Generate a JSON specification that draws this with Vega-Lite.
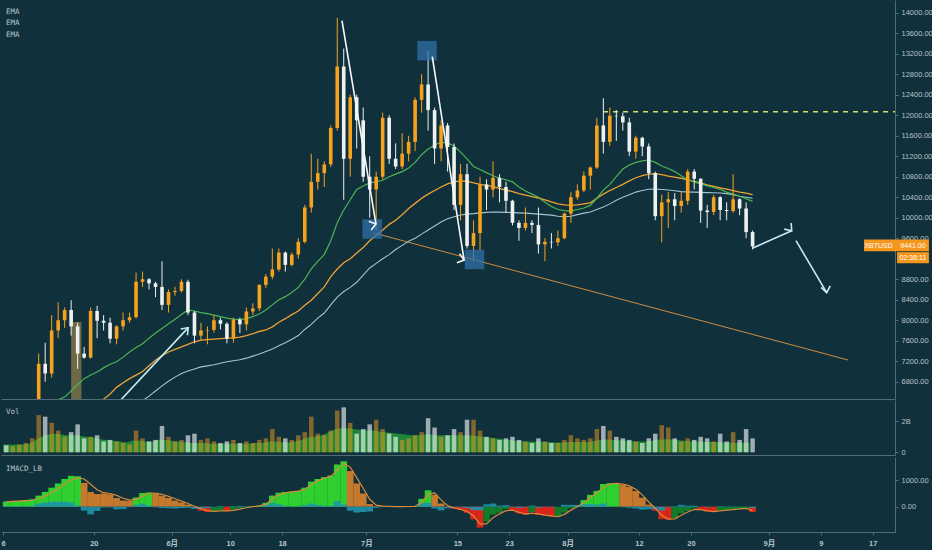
{
  "$schema": "https://vega.github.io/schema/vega-lite/v6.json",
  "background": "#10303c",
  "padding": {"left": 0, "top": 0, "right": 0, "bottom": 4},
  "spacing": 1,
  "config": {
    "view": {"stroke": null},
    "axis": {
      "domainColor": "#536b76",
      "tickColor": "#536b76",
      "labelColor": "#b9c3c8",
      "labelFont": "Liberation Sans, Noto Sans CJK SC",
      "labelFontSize": 7.5,
      "labelOverlap": false,
      "grid": false,
      "title": null,
      "tickSize": 3,
      "labelPadding": 3
    }
  },
  "datasets": {
    "px": [
      {"t":"2019-05-06","o":5770,"h":5800,"l":5600,"c":5720,"e1":5800,"e2":5600,"e3":5300,"v":0.45,"vm":0.5,"m":200,"s":180,"hs":20},
      {"t":"2019-05-07","o":5720,"h":5980,"l":5700,"c":5870,"e1":5850,"e2":5650,"e3":5350,"v":0.4,"vm":0.5,"m":220,"s":200,"hs":20},
      {"t":"2019-05-08","o":5870,"h":6050,"l":5800,"c":5990,"e1":5910,"e2":5700,"e3":5400,"v":0.5,"vm":0.5,"m":230,"s":215,"hs":15},
      {"t":"2019-05-09","o":5990,"h":6200,"l":5970,"c":6170,"e1":5990,"e2":5760,"e3":5450,"v":0.6,"vm":0.5,"m":240,"s":228,"hs":12},
      {"t":"2019-05-10","o":6170,"h":6450,"l":6120,"c":6350,"e1":6080,"e2":5830,"e3":5500,"v":0.9,"vm":0.55,"m":280,"s":245,"hs":35},
      {"t":"2019-05-11","o":6350,"h":7350,"l":6330,"c":7150,"e1":6200,"e2":5900,"e3":5560,"v":2.4,"vm":0.8,"m":420,"s":300,"hs":120},
      {"t":"2019-05-12","o":7150,"h":7560,"l":6800,"c":6960,"e1":6300,"e2":5980,"e3":5620,"v":2.3,"vm":1.0,"m":560,"s":400,"hs":160},
      {"t":"2019-05-13","o":6960,"h":8100,"l":6880,"c":7800,"e1":6390,"e2":6060,"e3":5690,"v":1.9,"vm":1.15,"m":720,"s":530,"hs":190},
      {"t":"2019-05-14","o":7800,"h":8350,"l":7650,"c":8000,"e1":6450,"e2":6140,"e3":5760,"v":1.4,"vm":1.2,"m":880,"s":690,"hs":190},
      {"t":"2019-05-15","o":8000,"h":8250,"l":7850,"c":8200,"e1":6500,"e2":6200,"e3":5830,"v":1.0,"vm":1.15,"m":1050,"s":860,"hs":190},
      {"t":"2019-05-16","o":8200,"h":8390,"l":7700,"c":7880,"e1":6620,"e2":6250,"e3":5890,"v":1.3,"vm":1.1,"m":1170,"s":1010,"hs":160},
      {"t":"2019-05-17","o":7880,"h":7950,"l":7050,"c":7350,"e1":6740,"e2":6290,"e3":5940,"v":1.8,"vm":1.1,"m":1150,"s":1100,"hs":50},
      {"t":"2019-05-18","o":7350,"h":7480,"l":7250,"c":7270,"e1":6860,"e2":6320,"e3":5990,"v":0.9,"vm":1.05,"m":900,"s":1050,"hs":-150},
      {"t":"2019-05-19","o":7270,"h":8250,"l":7250,"c":8180,"e1":6930,"e2":6350,"e3":6040,"v":1.0,"vm":1.0,"m":560,"s":850,"hs":-290},
      {"t":"2019-05-20","o":8180,"h":8280,"l":7650,"c":7990,"e1":6990,"e2":6390,"e3":6090,"v":1.1,"vm":0.95,"m":480,"s":640,"hs":-160},
      {"t":"2019-05-21","o":7990,"h":8100,"l":7800,"c":7950,"e1":7070,"e2":6460,"e3":6140,"v":0.7,"vm":0.85,"m":500,"s":530,"hs":-30},
      {"t":"2019-05-22","o":7950,"h":8050,"l":7550,"c":7640,"e1":7140,"e2":6560,"e3":6190,"v":0.8,"vm":0.8,"m":470,"s":500,"hs":-30},
      {"t":"2019-05-23","o":7640,"h":7900,"l":7530,"c":7880,"e1":7190,"e2":6690,"e3":6240,"v":0.7,"vm":0.75,"m":330,"s":430,"hs":-100},
      {"t":"2019-05-24","o":7880,"h":8150,"l":7800,"c":8000,"e1":7280,"e2":6780,"e3":6290,"v":0.6,"vm":0.7,"m":230,"s":320,"hs":-90},
      {"t":"2019-05-25","o":8000,"h":8150,"l":7950,"c":8060,"e1":7380,"e2":6860,"e3":6340,"v":0.5,"vm":0.65,"m":230,"s":250,"hs":-20},
      {"t":"2019-05-26","o":8060,"h":8930,"l":8030,"c":8750,"e1":7470,"e2":6930,"e3":6380,"v":1.4,"vm":0.75,"m":350,"s":280,"hs":70},
      {"t":"2019-05-27","o":8750,"h":8950,"l":8650,"c":8800,"e1":7540,"e2":7000,"e3":6430,"v":0.9,"vm":0.75,"m":520,"s":400,"hs":120},
      {"t":"2019-05-28","o":8800,"h":8820,"l":8600,"c":8720,"e1":7650,"e2":7110,"e3":6520,"v":0.7,"vm":0.7,"m":540,"s":500,"hs":40},
      {"t":"2019-05-29","o":8720,"h":8750,"l":8450,"c":8650,"e1":7750,"e2":7220,"e3":6620,"v":0.8,"vm":0.7,"m":500,"s":520,"hs":-20},
      {"t":"2019-05-30","o":8650,"h":9150,"l":8200,"c":8300,"e1":7840,"e2":7310,"e3":6720,"v":1.7,"vm":0.8,"m":420,"s":470,"hs":-50},
      {"t":"2019-05-31","o":8300,"h":8600,"l":8150,"c":8550,"e1":7930,"e2":7380,"e3":6810,"v":1.0,"vm":0.8,"m":330,"s":390,"hs":-60},
      {"t":"2019-06-01","o":8550,"h":8650,"l":8480,"c":8570,"e1":8020,"e2":7430,"e3":6890,"v":0.7,"vm":0.75,"m":230,"s":300,"hs":-70},
      {"t":"2019-06-02","o":8570,"h":8800,"l":8540,"c":8750,"e1":8110,"e2":7480,"e3":6960,"v":0.8,"vm":0.7,"m":160,"s":210,"hs":-50},
      {"t":"2019-06-03","o":8750,"h":8790,"l":8100,"c":8150,"e1":8200,"e2":7530,"e3":7010,"v":1.1,"vm":0.65,"m":80,"s":120,"hs":-40},
      {"t":"2019-06-04","o":8150,"h":8180,"l":7550,"c":7700,"e1":8180,"e2":7580,"e3":7050,"v":1.2,"vm":0.6,"m":-60,"s":20,"hs":-80},
      {"t":"2019-06-05","o":7700,"h":7950,"l":7600,"c":7800,"e1":8150,"e2":7610,"e3":7090,"v":0.8,"vm":0.6,"m":-150,"s":-80,"hs":-70},
      {"t":"2019-06-06","o":7800,"h":7880,"l":7530,"c":7810,"e1":8130,"e2":7620,"e3":7110,"v":0.9,"vm":0.6,"m":-200,"s":-150,"hs":-50},
      {"t":"2019-06-07","o":7810,"h":8100,"l":7760,"c":8000,"e1":8100,"e2":7630,"e3":7130,"v":0.7,"vm":0.55,"m":-180,"s":-180,"hs":0},
      {"t":"2019-06-08","o":8000,"h":8050,"l":7820,"c":7930,"e1":8070,"e2":7640,"e3":7160,"v":0.6,"vm":0.55,"m":-140,"s":-160,"hs":20},
      {"t":"2019-06-09","o":7930,"h":7960,"l":7550,"c":7640,"e1":8040,"e2":7650,"e3":7190,"v":0.7,"vm":0.55,"m":-170,"s":-160,"hs":-10},
      {"t":"2019-06-10","o":7640,"h":8050,"l":7560,"c":8010,"e1":8020,"e2":7655,"e3":7210,"v":0.8,"vm":0.55,"m":-120,"s":-140,"hs":20},
      {"t":"2019-06-11","o":8010,"h":8050,"l":7750,"c":7920,"e1":8010,"e2":7670,"e3":7230,"v":0.6,"vm":0.55,"m":-60,"s":-90,"hs":30},
      {"t":"2019-06-12","o":7920,"h":8250,"l":7800,"c":8170,"e1":8030,"e2":7700,"e3":7260,"v":0.7,"vm":0.55,"m":-20,"s":-40,"hs":20},
      {"t":"2019-06-13","o":8170,"h":8330,"l":8100,"c":8230,"e1":8070,"e2":7740,"e3":7300,"v":0.6,"vm":0.55,"m":10,"s":0,"hs":10},
      {"t":"2019-06-14","o":8230,"h":8700,"l":8180,"c":8690,"e1":8120,"e2":7780,"e3":7340,"v":0.8,"vm":0.6,"m":40,"s":30,"hs":10},
      {"t":"2019-06-15","o":8690,"h":8900,"l":8630,"c":8850,"e1":8200,"e2":7810,"e3":7390,"v":0.9,"vm":0.6,"m":150,"s":90,"hs":60},
      {"t":"2019-06-16","o":8850,"h":9400,"l":8800,"c":8990,"e1":8300,"e2":7870,"e3":7440,"v":1.5,"vm":0.7,"m":420,"s":280,"hs":140},
      {"t":"2019-06-17","o":8990,"h":9400,"l":8950,"c":9320,"e1":8400,"e2":7960,"e3":7500,"v":1.0,"vm":0.7,"m":530,"s":440,"hs":90},
      {"t":"2019-06-18","o":9320,"h":9340,"l":8950,"c":9080,"e1":8460,"e2":8030,"e3":7560,"v":0.9,"vm":0.65,"m":560,"s":530,"hs":30},
      {"t":"2019-06-19","o":9080,"h":9320,"l":9050,"c":9280,"e1":8540,"e2":8110,"e3":7630,"v":0.8,"vm":0.65,"m":570,"s":560,"hs":10},
      {"t":"2019-06-20","o":9280,"h":9600,"l":9200,"c":9530,"e1":8640,"e2":8180,"e3":7700,"v":1.1,"vm":0.7,"m":600,"s":590,"hs":10},
      {"t":"2019-06-21","o":9530,"h":10250,"l":9500,"c":10200,"e1":8800,"e2":8290,"e3":7820,"v":1.3,"vm":0.8,"m":720,"s":660,"hs":60},
      {"t":"2019-06-22","o":10200,"h":11250,"l":10100,"c":10700,"e1":9000,"e2":8390,"e3":7920,"v":2.3,"vm":0.95,"m":950,"s":830,"hs":120},
      {"t":"2019-06-23","o":10700,"h":11150,"l":10550,"c":10870,"e1":9150,"e2":8520,"e3":8040,"v":1.2,"vm":1.0,"m":1050,"s":980,"hs":70},
      {"t":"2019-06-24","o":10870,"h":11100,"l":10600,"c":11040,"e1":9280,"e2":8650,"e3":8141,"v":1.1,"vm":1.1,"m":1120,"s":1080,"hs":40},
      {"t":"2019-06-25","o":11040,"h":11800,"l":10990,"c":11750,"e1":9550,"e2":8850,"e3":8300,"v":1.4,"vm":1.25,"m":1180,"s":1150,"hs":30},
      {"t":"2019-06-26","o":11750,"h":13900,"l":11700,"c":12950,"e1":9900,"e2":9000,"e3":8450,"v":2.7,"vm":1.45,"m":1600,"s":1380,"hs":220},
      {"t":"2019-06-27","o":12950,"h":13300,"l":10350,"c":11150,"e1":10150,"e2":9120,"e3":8560,"v":2.9,"vm":1.55,"m":1720,"s":1640,"hs":80},
      {"t":"2019-06-28","o":11150,"h":12400,"l":10800,"c":12350,"e1":10350,"e2":9200,"e3":8640,"v":1.9,"vm":1.55,"m":1350,"s":1500,"hs":-150},
      {"t":"2019-06-29","o":12350,"h":12400,"l":11350,"c":11900,"e1":10550,"e2":9310,"e3":8740,"v":1.2,"vm":1.5,"m":880,"s":1100,"hs":-220},
      {"t":"2019-06-30","o":11900,"h":12150,"l":10700,"c":10800,"e1":10620,"e2":9420,"e3":8880,"v":1.5,"vm":1.45,"m":500,"s":700,"hs":-200},
      {"t":"2019-07-01","o":10800,"h":11200,"l":10000,"c":10550,"e1":10680,"e2":9550,"e3":9020,"v":1.8,"vm":1.4,"m":100,"s":280,"hs":-180},
      {"t":"2019-07-02","o":10550,"h":10900,"l":9750,"c":10800,"e1":10700,"e2":9660,"e3":9110,"v":2.1,"vm":1.4,"m":20,"s":60,"hs":-40},
      {"t":"2019-07-03","o":10800,"h":12050,"l":10750,"c":11950,"e1":10730,"e2":9760,"e3":9200,"v":1.5,"vm":1.35,"m":10,"s":20,"hs":-10},
      {"t":"2019-07-04","o":11950,"h":12000,"l":11050,"c":11150,"e1":10800,"e2":9870,"e3":9280,"v":1.2,"vm":1.3,"m":10,"s":10,"hs":0},
      {"t":"2019-07-05","o":11150,"h":11450,"l":10950,"c":11000,"e1":10850,"e2":9950,"e3":9380,"v":1.0,"vm":1.25,"m":5,"s":5,"hs":0},
      {"t":"2019-07-06","o":11000,"h":11650,"l":10950,"c":11250,"e1":10900,"e2":10060,"e3":9460,"v":0.8,"vm":1.2,"m":5,"s":5,"hs":0},
      {"t":"2019-07-07","o":11250,"h":11600,"l":11100,"c":11480,"e1":10970,"e2":10180,"e3":9540,"v":0.9,"vm":1.15,"m":10,"s":8,"hs":2},
      {"t":"2019-07-08","o":11480,"h":12350,"l":11300,"c":12300,"e1":11080,"e2":10280,"e3":9600,"v":1.1,"vm":1.1,"m":20,"s":15,"hs":5},
      {"t":"2019-07-09","o":12300,"h":12800,"l":12050,"c":12600,"e1":11230,"e2":10380,"e3":9680,"v":1.3,"vm":1.1,"m":300,"s":160,"hs":140},
      {"t":"2019-07-10","o":12600,"h":13250,"l":11700,"c":12100,"e1":11340,"e2":10460,"e3":9760,"v":2.2,"vm":1.15,"m":620,"s":470,"hs":150},
      {"t":"2019-07-11","o":12100,"h":12150,"l":11050,"c":11350,"e1":11420,"e2":10530,"e3":9840,"v":1.6,"vm":1.15,"m":450,"s":520,"hs":-70},
      {"t":"2019-07-12","o":11350,"h":11900,"l":11100,"c":11800,"e1":11470,"e2":10600,"e3":9917,"v":1.0,"vm":1.1,"m":120,"s":260,"hs":-140},
      {"t":"2019-07-13","o":11800,"h":11850,"l":10900,"c":11380,"e1":11460,"e2":10660,"e3":9980,"v":1.1,"vm":1.1,"m":-20,"s":40,"hs":-60},
      {"t":"2019-07-14","o":11380,"h":11450,"l":10150,"c":10250,"e1":11400,"e2":10700,"e3":10020,"v":1.5,"vm":1.1,"m":-80,"s":-50,"hs":-30},
      {"t":"2019-07-15","o":10250,"h":11050,"l":9950,"c":10850,"e1":11280,"e2":10720,"e3":10053,"v":1.3,"vm":1.1,"m":-120,"s":-100,"hs":-20},
      {"t":"2019-07-16","o":10850,"h":11050,"l":9400,"c":9450,"e1":11150,"e2":10710,"e3":10070,"v":2.1,"vm":1.1,"m":-230,"s":-180,"hs":-50},
      {"t":"2019-07-17","o":9450,"h":9950,"l":9150,"c":9700,"e1":11000,"e2":10680,"e3":10080,"v":2.1,"vm":1.1,"m":-480,"s":-350,"hs":-130},
      {"t":"2019-07-18","o":9700,"h":10800,"l":9350,"c":10650,"e1":10940,"e2":10650,"e3":10095,"v":1.4,"vm":1.05,"m":-790,"s":-650,"hs":-140},
      {"t":"2019-07-19","o":10650,"h":10750,"l":10150,"c":10550,"e1":10880,"e2":10630,"e3":10105,"v":1.0,"vm":1.0,"m":-560,"s":-650,"hs":90},
      {"t":"2019-07-20","o":10550,"h":11100,"l":10400,"c":10780,"e1":10820,"e2":10610,"e3":10112,"v":0.9,"vm":0.95,"m":-300,"s":-420,"hs":120},
      {"t":"2019-07-21","o":10780,"h":10850,"l":10300,"c":10600,"e1":10770,"e2":10570,"e3":10110,"v":0.8,"vm":0.9,"m":-230,"s":-270,"hs":40},
      {"t":"2019-07-22","o":10600,"h":10700,"l":10100,"c":10330,"e1":10740,"e2":10540,"e3":10105,"v":0.9,"vm":0.85,"m":-90,"s":-150,"hs":60},
      {"t":"2019-07-23","o":10330,"h":10350,"l":9850,"c":9900,"e1":10700,"e2":10510,"e3":10100,"v":1.0,"vm":0.8,"m":-150,"s":-130,"hs":-20},
      {"t":"2019-07-24","o":9900,"h":9950,"l":9550,"c":9800,"e1":10600,"e2":10470,"e3":10095,"v":0.8,"vm":0.75,"m":-260,"s":-210,"hs":-50},
      {"t":"2019-07-25","o":9800,"h":10200,"l":9750,"c":9900,"e1":10520,"e2":10440,"e3":10090,"v":0.7,"vm":0.72,"m":-300,"s":-280,"hs":-20},
      {"t":"2019-07-26","o":9900,"h":9950,"l":9700,"c":9860,"e1":10460,"e2":10410,"e3":10080,"v":0.6,"vm":0.7,"m":-200,"s":-240,"hs":40},
      {"t":"2019-07-27","o":9860,"h":10200,"l":9300,"c":9480,"e1":10400,"e2":10385,"e3":10070,"v":0.9,"vm":0.7,"m":-310,"s":-270,"hs":-40},
      {"t":"2019-07-28","o":9480,"h":9600,"l":9150,"c":9530,"e1":10300,"e2":10350,"e3":10060,"v":0.7,"vm":0.68,"m":-330,"s":-320,"hs":-10},
      {"t":"2019-07-29","o":9530,"h":9700,"l":9400,"c":9520,"e1":10220,"e2":10310,"e3":10050,"v":0.6,"vm":0.66,"m":-370,"s":-350,"hs":-20},
      {"t":"2019-07-30","o":9520,"h":9750,"l":9450,"c":9600,"e1":10160,"e2":10270,"e3":10030,"v":0.6,"vm":0.64,"m":-380,"s":-380,"hs":0},
      {"t":"2019-07-31","o":9600,"h":10100,"l":9580,"c":10080,"e1":10140,"e2":10250,"e3":10020,"v":0.8,"vm":0.64,"m":-220,"s":-290,"hs":70},
      {"t":"2019-08-01","o":10080,"h":10500,"l":9900,"c":10400,"e1":10130,"e2":10240,"e3":10030,"v":1.1,"vm":0.66,"m":-60,"s":-130,"hs":70},
      {"t":"2019-08-02","o":10400,"h":10650,"l":10350,"c":10530,"e1":10160,"e2":10250,"e3":10060,"v":0.9,"vm":0.66,"m":60,"s":0,"hs":60},
      {"t":"2019-08-03","o":10530,"h":10900,"l":10500,"c":10820,"e1":10190,"e2":10270,"e3":10090,"v":0.8,"vm":0.66,"m":250,"s":160,"hs":90},
      {"t":"2019-08-04","o":10820,"h":11000,"l":10550,"c":10980,"e1":10240,"e2":10290,"e3":10110,"v":0.9,"vm":0.66,"m":450,"s":350,"hs":100},
      {"t":"2019-08-05","o":10980,"h":11950,"l":10950,"c":11800,"e1":10380,"e2":10380,"e3":10160,"v":1.5,"vm":0.72,"m":600,"s":520,"hs":80},
      {"t":"2019-08-06","o":11800,"h":12330,"l":11250,"c":11480,"e1":10540,"e2":10460,"e3":10210,"v":1.7,"vm":0.8,"m":860,"s":740,"hs":120},
      {"t":"2019-08-07","o":11480,"h":12150,"l":11400,"c":11990,"e1":10650,"e2":10530,"e3":10270,"v":1.4,"vm":0.82,"m":890,"s":860,"hs":30},
      {"t":"2019-08-08","o":11990,"h":12100,"l":11500,"c":11980,"e1":10800,"e2":10590,"e3":10340,"v":1.0,"vm":0.8,"m":885,"s":885,"hs":0},
      {"t":"2019-08-09","o":11980,"h":12050,"l":11700,"c":11860,"e1":10950,"e2":10650,"e3":10400,"v":0.9,"vm":0.78,"m":840,"s":860,"hs":-20},
      {"t":"2019-08-10","o":11860,"h":11950,"l":11200,"c":11290,"e1":11030,"e2":10720,"e3":10450,"v":0.8,"vm":0.75,"m":750,"s":790,"hs":-40},
      {"t":"2019-08-11","o":11290,"h":11600,"l":11150,"c":11560,"e1":11080,"e2":10780,"e3":10500,"v":0.7,"vm":0.72,"m":590,"s":660,"hs":-70},
      {"t":"2019-08-12","o":11560,"h":11580,"l":11200,"c":11390,"e1":11110,"e2":10820,"e3":10530,"v":0.6,"vm":0.7,"m":340,"s":450,"hs":-110},
      {"t":"2019-08-13","o":11390,"h":11450,"l":10750,"c":10870,"e1":11126,"e2":10850,"e3":10555,"v":0.9,"vm":0.7,"m":80,"s":180,"hs":-100},
      {"t":"2019-08-14","o":10870,"h":10900,"l":9950,"c":10030,"e1":11080,"e2":10860,"e3":10560,"v":1.2,"vm":0.75,"m":-150,"s":-60,"hs":-90},
      {"t":"2019-08-15","o":10030,"h":10450,"l":9520,"c":10300,"e1":11010,"e2":10840,"e3":10550,"v":1.75,"vm":0.82,"m":-470,"s":-320,"hs":-150},
      {"t":"2019-08-16","o":10300,"h":10500,"l":9800,"c":10360,"e1":10960,"e2":10810,"e3":10540,"v":1.6,"vm":0.85,"m":-490,"s":-470,"hs":-20},
      {"t":"2019-08-17","o":10360,"h":10480,"l":9950,"c":10230,"e1":10900,"e2":10790,"e3":10525,"v":0.9,"vm":0.82,"m":-440,"s":-460,"hs":20},
      {"t":"2019-08-18","o":10230,"h":10500,"l":10100,"c":10330,"e1":10820,"e2":10770,"e3":10510,"v":0.7,"vm":0.78,"m":-250,"s":-320,"hs":70},
      {"t":"2019-08-19","o":10330,"h":10950,"l":10250,"c":10900,"e1":10740,"e2":10740,"e3":10502,"v":0.9,"vm":0.75,"m":-160,"s":-200,"hs":40},
      {"t":"2019-08-20","o":10900,"h":10950,"l":10550,"c":10760,"e1":10700,"e2":10710,"e3":10500,"v":0.8,"vm":0.72,"m":-60,"s":-100,"hs":40},
      {"t":"2019-08-21","o":10760,"h":10770,"l":9900,"c":10140,"e1":10660,"e2":10680,"e3":10495,"v":1.0,"vm":0.7,"m":-120,"s":-110,"hs":-10},
      {"t":"2019-08-22","o":10140,"h":10250,"l":9800,"c":10110,"e1":10620,"e2":10640,"e3":10490,"v":0.9,"vm":0.68,"m":-180,"s":-160,"hs":-20},
      {"t":"2019-08-23","o":10110,"h":10450,"l":10050,"c":10400,"e1":10590,"e2":10610,"e3":10487,"v":0.7,"vm":0.66,"m":-190,"s":-185,"hs":-5},
      {"t":"2019-08-24","o":10400,"h":10420,"l":9950,"c":10150,"e1":10550,"e2":10580,"e3":10483,"v":1.2,"vm":0.66,"m":-140,"s":-160,"hs":20},
      {"t":"2019-08-25","o":10150,"h":10300,"l":9950,"c":10130,"e1":10500,"e2":10560,"e3":10470,"v":0.7,"vm":0.64,"m":-120,"s":-130,"hs":10},
      {"t":"2019-08-26","o":10130,"h":10850,"l":10100,"c":10360,"e1":10460,"e2":10530,"e3":10450,"v":1.3,"vm":0.64,"m":-100,"s":-110,"hs":10},
      {"t":"2019-08-27","o":10360,"h":10380,"l":10050,"c":10180,"e1":10420,"e2":10500,"e3":10420,"v":0.8,"vm":0.62,"m":-70,"s":-80,"hs":10},
      {"t":"2019-08-28","o":10180,"h":10300,"l":9600,"c":9720,"e1":10370,"e2":10480,"e3":10400,"v":1.5,"vm":0.62,"m":-60,"s":-65,"hs":5},
      {"t":"2019-08-29","o":9720,"h":9750,"l":9380,"c":9441,"e1":10320,"e2":10450,"e3":10380,"v":0.9,"vm":0.6,"m":-200,"s":-150,"hs":-50}
    ],
    "band": [{"t1":"2019-05-16T12:00:00Z","t2":"2019-05-18T02:00:00Z","p1":7966,"p2":6300}],
    "trend": [{"t1":"2019-07-02T04:00:00Z","p1":9702,"t2":"2019-09-13T05:00:00Z","p2":7224}],
    "level": [{"t1":"2019-08-06T11:00:00Z","p1":12069,"t2":"2019-09-21T00:00:00Z","p2":12069}],
    "boxes": [
      {"t":"2019-07-10T08:00:00Z","p":13259},
      {"t":"2019-07-01T21:00:00Z","p":9780},
      {"t":"2019-07-17T15:30:00Z","p":9185}
    ],
    "arrows": [
      {"id":"a1","t1":"2019-05-23T02:00:00Z","p1":6300,"t2":"2019-06-03T13:00:00Z","p2":7855},
      {"id":"a2","t1":"2019-06-27T05:30:00Z","p1":13844,"t2":"2019-07-02T11:00:00Z","p2":9878},
      {"id":"a3","t1":"2019-07-11T03:30:00Z","p1":13142,"t2":"2019-07-16T01:00:00Z","p2":9175},
      {"id":"a4","t1":"2019-08-29T11:00:00Z","p1":9404,"t2":"2019-09-04T12:45:00Z","p2":9747},
      {"id":"a5","t1":"2019-09-05T04:30:00Z","p1":9552,"t2":"2019-09-09T22:00:00Z","p2":8537}
    ],
    "labs": [
      {"t":"2019-05-06T11:00:00Z","p":14010,"txt":"EMA"},
      {"t":"2019-05-06T11:00:00Z","p":13790,"txt":"EMA"},
      {"t":"2019-05-06T11:00:00Z","p":13560,"txt":"EMA"}
    ],
    "tagbox": [
      {"t1":"2019-09-15T16:00:00Z","t2":"2019-09-25T16:00:00Z","p1":9575,"p2":9345},
      {"t1":"2019-09-20T18:00:00Z","t2":"2019-09-25T16:00:00Z","p1":9328,"p2":9112}
    ],
    "tag": [
      {"t":"2019-09-17T22:00:00Z","p":9455,"txt":"XBTUSD"},
      {"t":"2019-09-23T05:00:00Z","p":9455,"txt":"9441.00"},
      {"t":"2019-09-23T05:00:00Z","p":9218,"txt":"02:38:11"}
    ],
    "vlab": [{"t":"2019-05-06T11:00:00Z","v":2.6,"txt":"Vol"}],
    "mlab": [{"t":"2019-05-06T11:00:00Z","m":1430,"txt":"IMACD_LB"}]
  },
  "vconcat": [
    {
      "width": 894,
      "height": 399,
      "data": {"name": "px"},
      "layer": [
        {
          "data": {"name": "band"},
          "mark": {"type": "rect", "color": "#c9a04e", "opacity": 0.5, "clip": true},
          "encoding": {
            "x": {"field": "t1", "type": "temporal",
              "scale": {"type": "utc", "domain": [{"year": 2019, "month": 5, "date": 5, "hours": 16, "minutes": 36, "utc": true}, {"year": 2019, "month": 9, "date": 20, "hours": 10, "minutes": 34, "utc": true}]},
              "axis": {"labels": false, "ticks": false, "domain": true}},
            "x2": {"field": "t2"},
            "y": {"field": "p1", "type": "quantitative",
              "scale": {"domain": [6463, 14248], "nice": false, "zero": false},
              "axis": {"orient": "right", "format": ".2f", "tickCount": 30, "values": [6800, 7200, 7600, 8000, 8400, 8800, 9600, 10000, 10400, 10800, 11200, 11600, 12000, 12400, 12800, 13200, 13600, 14000]}},
            "y2": {"field": "p2"}
          }
        },
        {
          "mark": {"type": "line", "color": "#9fc6d1", "strokeWidth": 1.1, "clip": true},
          "encoding": {
            "x": {"field": "t", "type": "temporal", "timeUnit": "utcyearmonthdate", "bandPosition": 0.5, "scale": {"type": "utc"}},
            "y": {"field": "e3", "type": "quantitative", "scale": {"domain": [6463, 14248], "nice": false, "zero": false}}
          }
        },
        {
          "mark": {"type": "line", "color": "#efa234", "strokeWidth": 1.3, "clip": true},
          "encoding": {
            "x": {"field": "t", "type": "temporal", "timeUnit": "utcyearmonthdate", "bandPosition": 0.5, "scale": {"type": "utc"}},
            "y": {"field": "e2", "type": "quantitative", "scale": {"domain": [6463, 14248], "nice": false, "zero": false}}
          }
        },
        {
          "mark": {"type": "line", "color": "#4cb454", "strokeWidth": 1.2, "clip": true},
          "encoding": {
            "x": {"field": "t", "type": "temporal", "timeUnit": "utcyearmonthdate", "bandPosition": 0.5, "scale": {"type": "utc"}},
            "y": {"field": "e1", "type": "quantitative", "scale": {"domain": [6463, 14248], "nice": false, "zero": false}}
          }
        },
        {
          "data": {"name": "trend"},
          "mark": {"type": "rule", "color": "#cf8b3e", "strokeWidth": 1, "clip": true},
          "encoding": {
            "x": {"field": "t1", "type": "temporal", "scale": {"type": "utc"}},
            "x2": {"field": "t2"},
            "y": {"field": "p1", "type": "quantitative", "scale": {"domain": [6463, 14248], "nice": false, "zero": false}},
            "y2": {"field": "p2"}
          }
        },
        {
          "data": {"name": "level"},
          "mark": {"type": "rule", "color": "#d3e06a", "strokeWidth": 1.5, "strokeDash": [5, 5], "clip": true},
          "encoding": {
            "x": {"field": "t1", "type": "temporal", "scale": {"type": "utc"}},
            "x2": {"field": "t2"},
            "y": {"field": "p1", "type": "quantitative", "scale": {"domain": [6463, 14248], "nice": false, "zero": false}},
            "y2": {"field": "p2"}
          }
        },
        {
          "mark": {"type": "rule", "strokeWidth": 1, "clip": true},
          "encoding": {
            "x": {"field": "t", "type": "temporal", "timeUnit": "utcyearmonthdate", "bandPosition": 0.5, "scale": {"type": "utc"}},
            "y": {"field": "l", "type": "quantitative", "scale": {"domain": [6463, 14248], "nice": false, "zero": false}},
            "y2": {"field": "h"},
            "color": {"condition": {"test": "datum.c >= datum.o", "value": "#f7a21c"}, "value": "#eef1f2"}
          }
        },
        {
          "mark": {"type": "bar", "width": 3.6, "clip": true},
          "encoding": {
            "x": {"field": "t", "type": "temporal", "timeUnit": "utcyearmonthdate", "bandPosition": 0.5, "scale": {"type": "utc"}},
            "y": {"field": "o", "type": "quantitative", "scale": {"domain": [6463, 14248], "nice": false, "zero": false}},
            "y2": {"field": "c"},
            "color": {"condition": {"test": "datum.c >= datum.o", "value": "#f7a21c"}, "value": "#eef1f2"}
          }
        },
        {
          "data": {"name": "boxes"},
          "mark": {"type": "point", "shape": "square", "filled": true, "size": 380, "color": "#2f70a8", "opacity": 0.75},
          "encoding": {
            "x": {"field": "t", "type": "temporal", "scale": {"type": "utc"}},
            "y": {"field": "p", "type": "quantitative", "scale": {"domain": [6463, 14248], "nice": false, "zero": false}}
          }
        },
        {
          "data": {"name": "arrows"},
          "mark": {"type": "rule", "strokeWidth": 1.6, "clip": true},
          "encoding": {
            "x": {"field": "t1", "type": "temporal", "scale": {"type": "utc"}},
            "x2": {"field": "t2"},
            "y": {"field": "p1", "type": "quantitative", "scale": {"domain": [6463, 14248], "nice": false, "zero": false}},
            "y2": {"field": "p2"},
            "color": {"field": "id", "type": "nominal", "legend": null,
              "scale": {"domain": ["a1", "a2", "a3", "a4", "a5"], "range": ["#c4ecf4", "#f7f9fa", "#f7f9fa", "#c4ecf4", "#c4ecf4"]}}
          }
        },
        {
          "data": {"name": "arrows"},
          "mark": {"type": "point", "shape": "M -0.75 1 L 0 0 L 0.75 1", "filled": false, "size": 150, "strokeWidth": 1.6, "opacity": 1},
          "encoding": {
            "x": {"field": "t2", "type": "temporal", "scale": {"type": "utc"}},
            "y": {"field": "p2", "type": "quantitative", "scale": {"domain": [6463, 14248], "nice": false, "zero": false}},
            "color": {"field": "id", "type": "nominal", "legend": null},
            "angle": {"field": "id", "type": "nominal", "legend": null,
              "scale": {"domain": ["a1", "a2", "a3", "a4", "a5"], "range": [43, 170.5, 171, 65, 149.5]}}
          }
        },
        {
          "data": {"name": "labs"},
          "mark": {"type": "text", "align": "left", "baseline": "middle", "font": "DejaVu Sans Mono", "fontSize": 7.5, "color": "#b8c4c9"},
          "encoding": {
            "x": {"field": "t", "type": "temporal", "scale": {"type": "utc"}},
            "y": {"field": "p", "type": "quantitative", "scale": {"domain": [6463, 14248], "nice": false, "zero": false}},
            "text": {"field": "txt"}
          }
        },
        {
          "data": {"name": "tagbox"},
          "mark": {"type": "rect", "color": "#f5961d"},
          "encoding": {
            "x": {"field": "t1", "type": "temporal", "scale": {"type": "utc"}},
            "x2": {"field": "t2"},
            "y": {"field": "p1", "type": "quantitative", "scale": {"domain": [6463, 14248], "nice": false, "zero": false}},
            "y2": {"field": "p2"}
          }
        },
        {
          "data": {"name": "tag"},
          "mark": {"type": "text", "align": "center", "baseline": "middle", "font": "Liberation Sans", "fontSize": 7, "color": "#ffffff"},
          "encoding": {
            "x": {"field": "t", "type": "temporal", "scale": {"type": "utc"}},
            "y": {"field": "p", "type": "quantitative", "scale": {"domain": [6463, 14248], "nice": false, "zero": false}},
            "text": {"field": "txt"}
          }
        }
      ]
    },
    {
      "width": 894,
      "height": 55,
      "data": {"name": "px"},
      "layer": [
        {
          "mark": {"type": "area", "color": "#1f8638", "interpolate": "monotone", "clip": true},
          "encoding": {
            "x": {"field": "t", "type": "temporal", "timeUnit": "utcyearmonthdate", "bandPosition": 0.5,
              "scale": {"type": "utc", "domain": [{"year": 2019, "month": 5, "date": 5, "hours": 16, "minutes": 36, "utc": true}, {"year": 2019, "month": 9, "date": 20, "hours": 10, "minutes": 34, "utc": true}]},
              "axis": {"labels": false, "ticks": false, "domain": true}},
            "y": {"field": "vm", "type": "quantitative",
              "scale": {"domain": [-0.174, 3.374], "nice": false, "zero": false},
              "axis": {"orient": "right", "values": [0, 2], "labelExpr": "datum.value == 0 ? '0' : datum.value + 'B'"}}
          }
        },
        {
          "mark": {"type": "bar", "width": 4.5, "clip": true},
          "encoding": {
            "x": {"field": "t", "type": "temporal", "timeUnit": "utcyearmonthdate", "bandPosition": 0.5, "scale": {"type": "utc"}},
            "y": {"field": "v", "type": "quantitative", "scale": {"domain": [-0.174, 3.374], "nice": false, "zero": false}},
            "color": {"condition": {"test": "datum.c >= datum.o", "value": "#f39c1f"}, "value": "#ffffff"},
            "opacity": {"condition": {"test": "datum.c >= datum.o", "value": 0.5}, "value": 0.6}
          }
        },
        {
          "data": {"name": "vlab"},
          "mark": {"type": "text", "align": "left", "baseline": "middle", "font": "DejaVu Sans Mono", "fontSize": 7.5, "color": "#b8c4c9"},
          "encoding": {
            "x": {"field": "t", "type": "temporal", "scale": {"type": "utc"}},
            "y": {"field": "v", "type": "quantitative", "scale": {"domain": [-0.174, 3.374], "nice": false, "zero": false}},
            "text": {"field": "txt"}
          }
        }
      ]
    },
    {
      "width": 894,
      "height": 75,
      "data": {"name": "px"},
      "layer": [
        {
          "mark": {"type": "bar", "width": 6.7, "clip": true},
          "encoding": {
            "x": {"field": "t", "type": "temporal", "timeUnit": "utcyearmonthdate", "bandPosition": 0.5,
              "scale": {"type": "utc", "domain": [{"year": 2019, "month": 5, "date": 5, "hours": 16, "minutes": 36, "utc": true}, {"year": 2019, "month": 9, "date": 20, "hours": 10, "minutes": 34, "utc": true}]},
              "axis": {
                "values": [
                  {"year": 2019, "month": 5, "date": 6, "utc": true},
                  {"year": 2019, "month": 5, "date": 20, "utc": true},
                  {"year": 2019, "month": 6, "date": 1, "utc": true},
                  {"year": 2019, "month": 6, "date": 10, "utc": true},
                  {"year": 2019, "month": 6, "date": 18, "utc": true},
                  {"year": 2019, "month": 7, "date": 1, "utc": true},
                  {"year": 2019, "month": 7, "date": 15, "utc": true},
                  {"year": 2019, "month": 7, "date": 23, "utc": true},
                  {"year": 2019, "month": 8, "date": 1, "utc": true},
                  {"year": 2019, "month": 8, "date": 12, "utc": true},
                  {"year": 2019, "month": 8, "date": 20, "utc": true},
                  {"year": 2019, "month": 9, "date": 1, "utc": true},
                  {"year": 2019, "month": 9, "date": 9, "utc": true},
                  {"year": 2019, "month": 9, "date": 17, "utc": true}
                ],
                "tickCount": 30,
                "labelExpr": "utcdate(datum.value) == 1 ? (utcmonth(datum.value) + 1) + '月' : '' + utcdate(datum.value)",
                "labelFontWeight": "bold",
                "labelPadding": 4
              }},
            "y": {"field": "m", "type": "quantitative",
              "scale": {"domain": [-958, 1883], "nice": false, "zero": false},
              "axis": {"orient": "right", "values": [0, 1000], "format": ".2f"}},
            "color": {"condition": [
              {"test": "datum.m >= 0 && datum.m >= datum.s", "value": "#2fcf2f"},
              {"test": "datum.m >= 0", "value": "#c6782c"},
              {"test": "datum.m >= datum.s", "value": "#137c2a"}
            ], "value": "#dd2418"}
          }
        },
        {
          "mark": {"type": "bar", "width": 6.7, "color": "#1f94ad", "opacity": 0.9, "clip": true},
          "encoding": {
            "x": {"field": "t", "type": "temporal", "timeUnit": "utcyearmonthdate", "bandPosition": 0.5, "scale": {"type": "utc"}},
            "y": {"field": "hs", "type": "quantitative", "scale": {"domain": [-958, 1883], "nice": false, "zero": false}}
          }
        },
        {
          "mark": {"type": "line", "color": "#d68a3a", "strokeWidth": 1.2, "clip": true},
          "encoding": {
            "x": {"field": "t", "type": "temporal", "timeUnit": "utcyearmonthdate", "bandPosition": 0.5, "scale": {"type": "utc"}},
            "y": {"field": "s", "type": "quantitative", "scale": {"domain": [-958, 1883], "nice": false, "zero": false}}
          }
        },
        {
          "data": {"name": "mlab"},
          "mark": {"type": "text", "align": "left", "baseline": "middle", "font": "DejaVu Sans Mono", "fontSize": 7.5, "color": "#b8c4c9"},
          "encoding": {
            "x": {"field": "t", "type": "temporal", "scale": {"type": "utc"}},
            "y": {"field": "m", "type": "quantitative", "scale": {"domain": [-958, 1883], "nice": false, "zero": false}},
            "text": {"field": "txt"}
          }
        }
      ]
    }
  ]
}
